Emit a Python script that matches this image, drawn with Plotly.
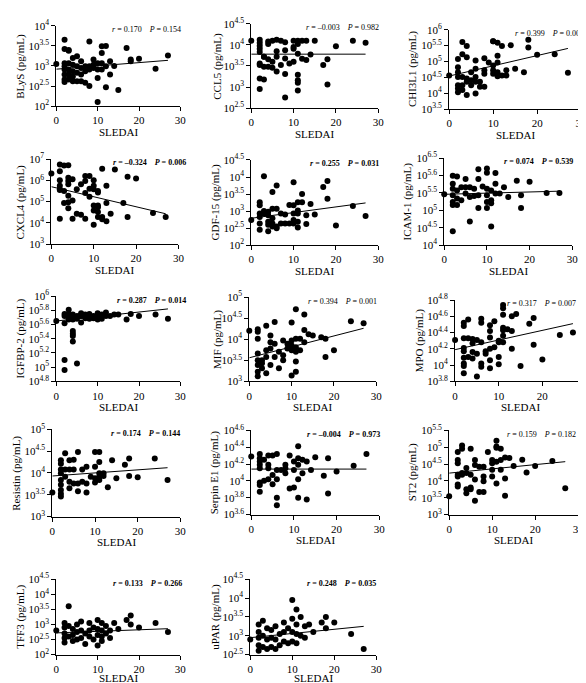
import plotly.graph_objects as go

# ---------------- data (log10 of concentration, pg/mL) ----------------
names = ["BLyS", "CCL5", "CHI3L1", "CXCL4", "GDF-15", "ICAM-1", "IGFBP-2",
         "MIF", "MPO", "Resistin", "Serpin E1", "ST2", "TFF3", "uPAR"]

blys_x = [0, 2, 2, 3, 3, 2, 2, 2, 2, 2, 2, 3, 3, 3, 3, 4, 4, 4, 4, 4, 5, 5, 5, 5, 6, 6, 6, 6, 7, 7, 7,
          8, 8, 8, 8, 9, 9, 9, 10, 10, 10, 10, 11, 11, 11, 11, 12, 12, 12, 13, 13, 14, 15, 17, 18, 18, 20, 24, 27]
blys_log = [3.05, 3.65, 3.42, 3.38, 3.40, 3.07, 2.99, 2.91, 2.79, 2.66, 2.60, 3.07, 2.91, 2.79, 2.66, 3.20, 3.03,
            2.87, 2.74, 2.62, 3.24, 2.99, 2.83, 2.62, 3.12, 2.95, 2.79, 2.62, 2.99, 2.87, 2.58,
            3.61, 2.99, 2.91, 2.50, 3.16, 3.03, 2.95, 3.07, 2.91, 2.70, 2.10, 3.49, 3.32, 3.07, 2.91, 3.50, 2.99, 2.47,
            3.12, 2.79, 3.00, 2.40, 3.45, 3.16, 3.12, 3.18, 2.93, 3.26]

ccl5_x = [0, 2, 2, 2, 4, 4, 5, 6, 7, 8, 10, 11, 11, 12, 13, 15, 24, 27, 2, 2, 3, 3, 4, 2, 2, 3, 4, 5, 6, 7,
          8, 8, 8, 9, 10, 10, 10, 11, 11, 11, 11, 11, 12, 13, 14, 17, 18, 18, 20, 2, 3, 2, 8, 6, 6, 5]
ccl5_log = [4.10, 4.12, 4.05, 3.98, 4.08, 4.02, 4.10, 4.12, 4.10, 4.06, 4.10, 4.10, 4.02, 4.10, 4.10, 4.10, 4.10, 4.05,
            3.91, 3.83, 3.72, 3.72, 3.66, 3.56, 3.52, 3.48, 3.48, 3.46, 3.37, 3.52,
            3.31, 3.87, 3.68, 3.56, 3.60, 3.91, 3.95, 3.79, 3.29, 3.16, 3.10, 2.92, 3.67, 3.64, 3.77, 3.52, 3.66, 3.06,
            3.97, 3.20, 3.18, 2.95, 2.75, 3.85, 3.72, 3.60]

chi3l1_x = [0, 2, 2, 2, 2, 2, 2, 2, 3, 3, 3, 3, 3, 4, 4, 4, 4, 4, 5, 5, 5, 6, 6, 6, 6, 6, 7, 7, 8, 8, 8, 8,
            9, 10, 10, 10, 10, 10, 11, 11, 11, 11, 11, 12, 12, 13, 13, 14, 15, 17, 18, 18, 20, 24, 27]
chi3l1_log = [4.56, 5.08, 4.82, 4.66, 4.51, 4.25, 4.15, 4.03, 5.61, 5.23, 4.51, 4.25, 4.10, 5.49, 5.13, 4.46, 4.36,
              3.94, 4.66, 4.41, 4.25, 4.77, 5.03, 4.51, 4.36, 3.99, 4.36, 4.20, 5.10, 4.72, 4.61, 4.20,
              4.97, 5.64, 5.64, 4.87, 4.72, 4.61, 5.59, 4.97, 5.18, 4.66, 4.53, 5.49, 4.56, 4.72, 4.56, 5.51, 4.77,
              4.66, 5.68, 5.44, 5.21, 5.23, 4.64]

cxcl4_x = [0, 2, 2, 2, 2, 2, 2, 2, 3, 3, 3, 4, 4, 4, 4, 4, 4, 4, 5, 5, 5, 6, 6, 7, 7, 8, 8, 8, 8, 9, 9, 9,
           10, 10, 10, 10, 10, 10, 11, 11, 11, 11, 11, 11, 12, 12, 12, 13, 13, 13, 14, 15, 17, 18, 18, 20, 24, 27]
cxcl4_log = [6.32, 6.74, 6.43, 6.00, 5.74, 5.55, 5.58, 4.20, 6.69, 5.50, 4.94, 6.71, 6.12, 5.97, 5.82, 5.28, 4.97,
             4.69, 6.05, 5.05, 4.20, 5.58, 4.43, 5.82, 4.38, 6.20, 5.97, 5.40, 4.20, 6.20, 5.23, 5.60,
             6.00, 5.74, 5.58, 4.58, 3.92, 4.82, 5.43, 4.82, 4.51, 4.28, 4.74, 5.50, 6.54, 4.28, 4.17,
             5.74, 4.94, 4.08, 4.43, 6.51, 4.94, 6.17, 4.28, 6.08, 4.46, 4.28]

gdf15_x = [0, 2, 2, 2, 2, 2, 2, 3, 3, 3, 4, 4, 4, 4, 4, 5, 5, 5, 5, 5, 6, 6, 6, 6, 7, 7, 8, 8, 9, 9,
           10, 10, 10, 10, 10, 11, 11, 11, 11, 11, 12, 12, 13, 13, 14, 15, 17, 18, 18, 20, 24, 27]
gdf15_log = [2.74, 3.26, 3.17, 2.93, 2.83, 2.64, 2.45, 4.02, 3.00, 2.93, 2.98, 2.88, 2.69, 2.60, 2.41, 3.56, 3.07,
             2.79, 2.64, 2.55, 3.75, 3.07, 2.55, 2.50, 2.93, 2.64, 2.90, 2.64, 3.18, 2.64,
             3.85, 3.17, 2.93, 2.74, 2.64, 3.26, 3.02, 2.93, 2.69, 2.52, 3.50, 3.26, 2.88, 2.62, 3.21, 2.90,
             3.71, 3.88, 3.36, 2.58, 3.15, 2.86]

icam1_x = [0, 2, 2, 2, 2, 2, 2, 2, 3, 3, 3, 3, 4, 4, 5, 5, 5, 6, 6, 6, 7, 7, 8, 8, 8, 8, 9,
           10, 10, 10, 10, 10, 10, 11, 11, 11, 11, 12, 12, 12, 13, 14, 15, 17, 18, 18, 20, 24, 27]
icam1_log = [5.46, 5.99, 5.76, 5.62, 5.43, 5.24, 5.15, 4.40, 5.97, 5.57, 5.34, 5.15, 5.66, 5.29, 5.90, 5.66, 5.48,
             5.66, 5.38, 4.68, 5.62, 5.41, 6.18, 5.90, 5.43, 5.07, 5.68,
             6.20, 6.08, 5.62, 5.43, 5.24, 5.07, 5.57, 5.29, 5.20, 4.54, 6.07, 5.76, 5.48, 5.48, 5.66, 5.38,
             5.85, 5.43, 5.07, 5.82, 5.50, 5.50]

igfbp2_x = [0, 2, 2, 2, 2, 2, 3, 3, 3, 3, 4, 4, 4, 4, 4, 4, 5, 5, 5, 6, 6, 6, 7, 7, 8, 8, 8, 9, 9,
            10, 10, 10, 11, 11, 12, 12, 13, 14, 15, 17, 18, 20, 24, 27]
igfbp2_log = [5.65, 5.75, 5.72, 5.62, 5.10, 4.96, 5.81, 5.69, 5.67, 5.74, 5.74, 5.67, 5.51, 5.47, 5.44, 5.36,
              5.72, 5.68, 5.05, 5.76, 5.72, 5.63, 5.74, 5.69, 5.75, 5.72, 5.68, 5.72, 5.69,
              5.76, 5.71, 5.67, 5.74, 5.68, 5.77, 5.72, 5.72, 5.74, 5.74, 5.67, 5.75, 5.72, 5.74, 5.68]

mif_x = [0, 2, 2, 2, 2, 2, 2, 2, 2, 3, 3, 3, 4, 4, 4, 4, 5, 5, 5, 5, 6, 6, 6, 7, 7, 8, 8, 8, 9, 9,
         10, 10, 10, 10, 10, 11, 11, 11, 11, 11, 11, 12, 12, 13, 13, 13, 14, 15, 17, 18, 18, 20, 24, 27]
mif_log = [4.20, 4.24, 4.18, 4.01, 3.66, 3.50, 3.39, 3.23, 3.12, 3.50, 3.43, 3.31, 4.32, 3.74, 3.58, 3.19,
           4.09, 3.93, 3.78, 3.39, 4.41, 3.89, 3.58, 3.31, 3.70, 3.97, 3.62, 3.50, 3.89, 3.78,
           4.40, 3.97, 3.85, 3.74, 3.14, 4.71, 4.01, 3.81, 3.70, 3.47, 3.23, 4.01, 3.74, 4.59, 4.22, 3.93,
           4.12, 4.09, 4.05, 4.01, 3.58, 3.74, 4.43, 4.38]

mpo_x = [0, 2, 2, 2, 2, 2, 2, 2, 2, 2, 3, 3, 3, 4, 4, 4, 4, 5, 5, 5, 6, 6, 6, 6, 6, 7, 7,
         8, 8, 8, 8, 8, 8, 9, 9, 10, 10, 10, 10, 11, 11, 11, 11, 11, 11, 11, 12, 13, 13, 13, 14, 15, 17, 18, 18, 20, 24, 27]
mpo_log = [4.31, 4.52, 4.48, 4.33, 4.21, 4.17, 4.09, 4.02, 3.99, 3.90, 4.56, 4.33, 4.10, 4.32, 4.27, 4.16, 4.08,
           4.31, 4.14, 3.86, 4.57, 4.52, 4.28, 4.02, 3.98, 4.17, 4.14,
           4.49, 4.42, 4.34, 4.20, 4.06, 3.96, 4.54, 4.22, 4.30, 4.28, 4.10, 4.01, 4.74, 4.70, 4.62, 4.46, 4.43,
           4.36, 4.28, 4.44, 4.60, 4.42, 4.20, 4.63, 3.99, 4.51, 4.58, 4.25, 4.07, 4.37, 4.40]

resistin_x = [0, 2, 2, 2, 2, 2, 2, 2, 2, 2, 3, 3, 3, 4, 4, 4, 4, 5, 5, 5, 6, 6, 6, 7, 7, 8, 8, 8, 9,
              10, 10, 10, 10, 11, 11, 11, 11, 11, 12, 12, 13, 14, 15, 17, 18, 18, 20, 24, 27]
resistin_log = [3.55, 4.29, 4.21, 4.08, 3.99, 3.84, 3.73, 3.61, 3.52, 3.46, 4.45, 4.08, 3.91, 4.29, 4.08, 3.80,
                3.65, 4.30, 4.08, 3.76, 4.48, 3.76, 3.58, 4.08, 3.80, 4.14, 3.76, 3.55, 3.91,
                4.48, 4.14, 3.88, 3.78, 4.48, 4.25, 3.99, 3.91, 3.84, 3.93, 3.99, 3.67, 4.29, 3.88, 4.19,
                4.33, 3.93, 3.90, 4.33, 3.84]

serpin_x = [0, 2, 2, 2, 2, 2, 2, 2, 2, 3, 3, 4, 4, 4, 4, 5, 5, 5, 6, 6, 6, 6, 6, 7, 8, 8, 8, 9, 9,
            10, 10, 10, 11, 11, 11, 11, 11, 12, 12, 13, 13, 14, 15, 17, 18, 18, 20, 24, 27]
serpin_log = [4.29, 4.32, 4.27, 4.23, 4.19, 4.15, 3.98, 3.95, 3.87, 4.25, 4.00, 4.30, 4.19, 4.15, 4.02, 4.30,
              4.07, 3.96, 4.32, 4.13, 4.02, 3.80, 3.71, 4.13, 4.19, 4.15, 4.09, 4.30, 3.91,
              4.23, 4.13, 3.92, 4.41, 4.27, 4.19, 4.02, 3.80, 4.25, 4.09, 4.23, 3.78, 4.13, 4.28, 4.06,
              4.27, 3.85, 4.11, 4.18, 4.32]

st2_x = [0, 2, 2, 2, 2, 2, 2, 2, 3, 3, 3, 3, 4, 4, 4, 4, 5, 5, 5, 5, 6, 6, 6, 6, 7, 7, 8, 8, 8, 8, 9,
         10, 10, 10, 10, 11, 11, 11, 11, 11, 12, 12, 12, 13, 13, 13, 14, 15, 17, 18, 20, 24, 27]
st2_log = [3.54, 4.86, 4.62, 4.52, 4.18, 4.13, 3.89, 3.83, 5.05, 4.95, 4.23, 4.18, 4.38, 4.23, 3.75, 3.63,
           4.95, 4.18, 3.80, 3.75, 4.62, 4.47, 4.04, 3.41, 4.42, 3.67, 4.42, 4.13, 3.99, 3.67, 4.86,
           4.62, 4.52, 4.33, 4.13, 5.19, 5.02, 4.98, 4.57, 3.92, 4.95, 4.62, 4.33, 4.69, 4.07, 3.56,
           4.68, 4.44, 4.63, 4.25, 4.44, 4.59, 3.78]

tff3_x = [0, 2, 2, 2, 2, 2, 3, 3, 3, 4, 4, 4, 5, 5, 5, 6, 6, 6, 7, 7, 8, 8, 8, 9, 9, 10, 10, 10, 10,
          11, 11, 11, 11, 12, 12, 13, 13, 14, 15, 17, 18, 18, 20, 24, 27]
tff3_log = [2.80, 3.05, 2.90, 2.70, 2.55, 2.40, 3.60, 2.95, 2.60, 2.85, 2.65, 2.45, 3.00, 2.75, 2.50, 3.10,
            2.80, 2.55, 2.70, 2.35, 3.05, 2.80, 2.60, 2.90, 2.50, 3.15, 2.85, 2.65, 2.30,
            3.05, 2.80, 2.60, 2.45, 2.95, 2.70, 2.80, 2.55, 3.05, 2.85, 3.15, 3.30, 3.00, 2.90, 3.05, 2.75]

upar_x = [0, 2, 2, 2, 2, 2, 3, 3, 3, 4, 4, 4, 5, 5, 5, 6, 6, 6, 7, 7, 8, 8, 8, 9, 9, 10, 10, 10, 10,
          11, 11, 11, 11, 12, 12, 13, 13, 14, 15, 17, 18, 18, 20, 24, 27]
upar_log = [2.90, 3.30, 3.10, 2.95, 2.75, 2.60, 3.40, 3.00, 2.70, 3.20, 2.90, 2.65, 3.15, 2.95, 2.70, 3.25,
            2.90, 2.65, 3.05, 2.75, 3.35, 3.10, 2.85, 3.20, 2.80, 3.95, 3.45, 3.10, 2.85,
            3.70, 3.30, 3.05, 2.80, 3.50, 3.00, 3.25, 2.95, 3.30, 3.10, 3.35, 3.20, 3.50, 3.35, 3.05, 2.65]

xs = [blys_x, ccl5_x, chi3l1_x, cxcl4_x, gdf15_x, icam1_x, igfbp2_x, mif_x, mpo_x,
      resistin_x, serpin_x, st2_x, tff3_x, upar_x]
ys_log = [blys_log, ccl5_log, chi3l1_log, cxcl4_log, gdf15_log, icam1_log, igfbp2_log, mif_log, mpo_log,
          resistin_log, serpin_log, st2_log, tff3_log, upar_log]

# regression line: log10 value at SLEDAI 0 and at SLEDAI 27
fit_x = [0, 27]
fit_log = [[2.92, 3.14], [3.78, 3.78], [4.54, 5.41], [5.70, 4.43], [2.79, 3.24], [5.46, 5.55], [5.65, 5.82],
           [3.56, 4.26], [4.19, 4.51], [3.93, 4.12], [4.14, 4.14], [4.23, 4.57], [2.72, 2.86], [2.95, 3.25]]

r_vals = ["0.170", "-0.003", "0.399", "-0.324", "0.255", "0.074", "0.287", "0.394", "0.317",
          "0.174", "-0.004", "0.159", "0.133", "0.248"]
p_vals = ["0.154", "0.982", "0.001", "0.006", "0.031", "0.539", "0.014", "0.001", "0.007",
          "0.144", "0.973", "0.182", "0.266", "0.035"]

# y-axis ranges (log10) and tick values / labels
y_ranges = [[2, 4], [2.5, 4.5], [3.5, 6], [3, 7], [2, 4.5], [4, 6.5], [4.8, 6], [3, 5], [3.8, 4.8],
            [3, 5], [3.6, 4.6], [3, 5.5], [2, 4.5], [2.5, 4.5]]
y_tickvals = [[2, 2.5, 3, 3.5, 4], [2.5, 3, 3.5, 4, 4.5], [3.5, 4, 4.5, 5, 5.5, 6], [3, 4, 5, 6, 7],
              [2, 2.5, 3, 3.5, 4, 4.5], [4, 4.5, 5, 5.5, 6, 6.5], [4.8, 5, 5.2, 5.4, 5.6, 5.8, 6],
              [3, 3.5, 4, 4.5, 5], [3.8, 4, 4.2, 4.4, 4.6, 4.8], [3, 3.5, 4, 4.5, 5],
              [3.6, 3.8, 4, 4.2, 4.4, 4.6], [3, 3.5, 4, 4.5, 5, 5.5], [2, 2.5, 3, 3.5, 4, 4.5],
              [2.5, 3, 3.5, 4, 4.5]]
y_ticklabels = [["%g" % v for v in tv] for tv in y_tickvals]
y_ticklabels[5] = ["4", "4.5", "5", "5.5", "5.6", "6.5"]   # as printed in the source figure

x_ticks = [0, 10, 20, 30]

# ---------------- layout (pixel boxes of each plot area) ----------------
W, H = 586, 683
boxes = [(46, 172, 10, 92), (244, 373, 8, 94), (445, 579, 14, 95),
         (41, 170, 146, 233), (244, 373, 147, 234), (440, 570, 145, 234),
         (46, 172, 286, 373), (242, 371, 287, 373), (451, 584, 290, 373),
         (42, 172, 422, 511), (244, 374, 423, 509), (445, 576, 423, 509),
         (46, 172, 575, 652), (243, 371, 575, 652)]
stat_right = [175, 376, 584, 180, 376, 573, 180, 374, 576, 174, 377, 576, 176, 373]
sledai_off = [26] * 12 + [24, 24]
ytitle_x = [10, 210, 408, 10, 208, 403, 10, 209, 415, 6, 207, 408, 10, 208]
bold_stats = [False, False, False, True, True, True, True, False, False, True, True, False, True, True]

FONT = "Liberation Serif"
fig = go.Figure()
annotations = []

for i, name in enumerate(names):
    l, r, t, b = boxes[i]
    k = "" if i == 0 else str(i + 1)
    xa, ya = "x" + k, "y" + k
    yvals = [10 ** v for v in ys_log[i]]
    fig.add_trace(go.Scatter(x=xs[i], y=yvals, mode="markers", xaxis=xa, yaxis=ya,
                             marker=dict(color="black", size=6), cliponaxis=False,
                             showlegend=False, hoverinfo="x+y"))
    fig.add_trace(go.Scatter(x=fit_x, y=[10 ** v for v in fit_log[i]], mode="lines",
                             xaxis=xa, yaxis=ya, line=dict(color="black", width=1),
                             showlegend=False, hoverinfo="skip"))
    common = dict(showline=True, linecolor="black", linewidth=1, ticks="outside", ticklen=4,
                  tickcolor="black", showgrid=False, zeroline=False,
                  tickfont=dict(family=FONT, size=11, color="black"))
    fig.layout["xaxis" + k] = dict(domain=[l / W, r / W], range=[0, 30], tickvals=x_ticks,
                                   anchor=ya, **common)
    fig.layout["yaxis" + k] = dict(domain=[1 - b / H, 1 - t / H], type="log", range=y_ranges[i],
                                   tickvals=[10 ** v for v in y_tickvals[i]],
                                   ticktext=["10<sup>%s</sup>" % s for s in y_ticklabels[i]],
                                   anchor=xa, **common)
    stat = "<i>r</i> = %s    <i>P</i> = %s" % (r_vals[i].replace("-", "\u2013"), p_vals[i])
    if bold_stats[i]:
        stat = "<b>" + stat + "</b>"
    annotations.append(dict(text=stat, x=stat_right[i] / W, y=1 - (t + 4) / H, xref="paper", yref="paper",
                            xanchor="right", yanchor="middle", showarrow=False,
                            font=dict(family=FONT, size=8, color="black")))
    annotations.append(dict(text="SLEDAI", x=(l + r) / 2 / W, y=1 - (b + sledai_off[i]) / H, xref="paper",
                            yref="paper", xanchor="center", yanchor="middle", showarrow=False,
                            font=dict(family=FONT, size=11, color="black")))
    annotations.append(dict(text=name + " (pg/mL)", x=ytitle_x[i] / W, y=1 - (t + b) / 2 / H,
                            xref="paper", yref="paper", xanchor="center", yanchor="middle",
                            textangle=-90, showarrow=False,
                            font=dict(family=FONT, size=11, color="black")))

fig.update_layout(width=W, height=H, margin=dict(l=0, r=0, t=0, b=0),
                  plot_bgcolor="white", paper_bgcolor="white", annotations=annotations,
                  font=dict(family=FONT, color="black"))
fig.write_html("out.html")
